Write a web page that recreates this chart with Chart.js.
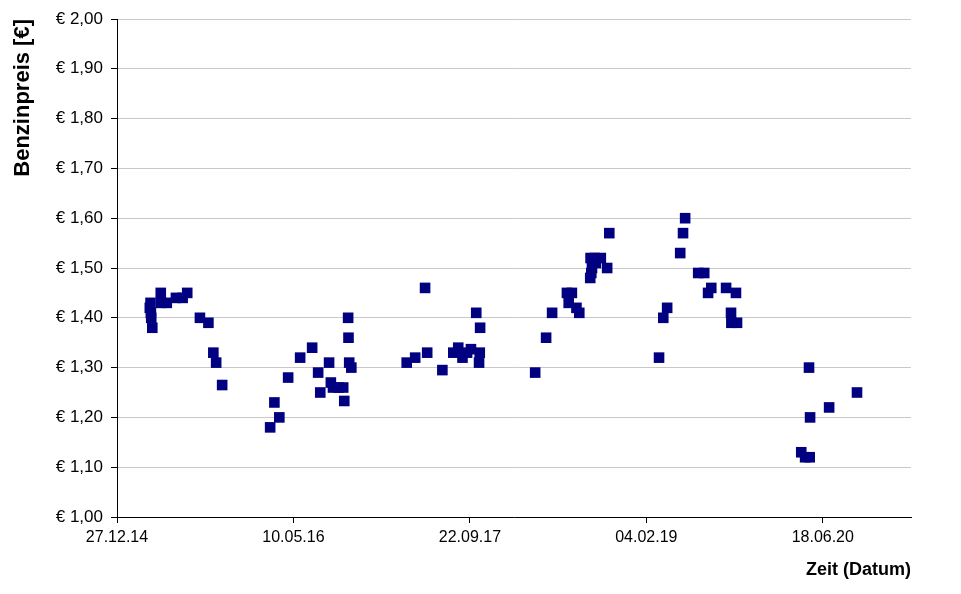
<!DOCTYPE html>
<html>
<head>
<meta charset="utf-8">
<script src="https://cdn.jsdelivr.net/npm/chart.js@4.4.0/dist/chart.umd.min.js"></script>
<style>
html,body{margin:0;padding:0;background:#fff;}
#wrap{width:961px;height:594px;}
</style>
</head>
<body>
<div id="wrap"><canvas id="c" width="961" height="594"></canvas></div>
<script>
// Data (date dd.mm.yy, price in €)
const dates = [
  '30.03.15','01.04.15','02.04.15','03.04.15','06.04.15','30.04.15','01.05.15','17.05.15',
  '12.06.15','01.07.15','14.07.15','19.08.15','12.09.15','26.09.15','04.10.15','21.10.15',
  '05.03.16','17.03.16','31.03.16','25.04.16','29.05.16','02.07.16','19.07.16','25.07.16',
  '19.08.16','24.08.16','30.08.16','15.09.16','28.09.16','01.10.16','12.10.16','13.10.16',
  '15.10.16','21.10.16',
  '27.03.17','20.04.17','18.05.17','24.05.17','06.07.17','06.08.17','20.08.17','01.09.17',
  '14.09.17','25.09.17','10.10.17','18.10.17','20.10.17','21.10.17',
  '26.03.18','26.04.18','13.05.18','24.06.18','08.07.18','29.06.18','21.07.18','29.07.18',
  '29.08.18','01.09.18','03.09.18','30.08.18','14.09.18','11.09.18','28.09.18','16.10.18',
  '22.10.18',
  '12.03.19','24.03.19','04.04.19','11.05.19','19.05.19','25.05.19','01.07.19','18.07.19',
  '29.07.19','07.08.19','18.09.19','02.10.19','03.10.19','16.10.19','19.10.19',
  '18.04.20','29.04.20','12.05.20','10.05.20','13.05.20','06.07.20','23.09.20'
];
const prices = [
  1.42,1.43,1.41,1.40,1.38,1.45,1.43,1.43,
  1.44,1.44,1.45,1.40,1.39,1.33,1.31,1.265,
  1.18,1.23,1.20,1.28,1.32,1.34,1.29,1.25,
  1.31,1.27,1.26,1.26,1.26,1.233,1.40,1.36,
  1.31,1.30,
  1.31,1.32,1.46,1.33,1.295,1.33,1.34,1.32,
  1.33,1.337,1.41,1.31,1.33,1.38,
  1.29,1.36,1.41,1.45,1.45,1.43,1.42,1.41,
  1.48,1.49,1.50,1.52,1.51,1.52,1.52,1.50,
  1.57,
  1.32,1.40,1.42,1.53,1.57,1.60,1.49,1.49,
  1.45,1.46,1.46,1.41,1.39,1.45,1.39,
  1.13,1.12,1.12,1.30,1.20,1.22,1.25
];
const xTickLabels = ['27.12.14','10.05.16','22.09.17','04.02.19','18.06.20'];
const xAxisStart = '27.12.14';
const xAxisEnd = '23.02.21';
const yMin = 1.0, yMax = 2.0, yStep = 0.1;

const BASE = Date.UTC(1899, 11, 30);
function toSerial(s) {
  const [d, m, y] = s.split('.').map(Number);
  return (Date.UTC(2000 + y, m - 1, d) - BASE) / 864e5;
}
function pad(n) { return (n < 10 ? '0' : '') + n; }
function fmtDate(v) {
  const dt = new Date(BASE + Math.round(v) * 864e5);
  return pad(dt.getUTCDate()) + '.' + pad(dt.getUTCMonth() + 1) + '.' + String(dt.getUTCFullYear()).slice(2);
}

const points = dates.map((d, i) => ({ x: toSerial(d), y: prices[i] }));
const FONT = 'Liberation Sans, Arial, sans-serif';

new Chart(document.getElementById('c'), {
  type: 'scatter',
  data: {
    datasets: [{
      data: points,
      pointStyle: 'rect',
      pointRadius: 7.5,
      pointHoverRadius: 7.5,
      backgroundColor: '#000080',
      borderColor: '#000080',
      borderWidth: 0
    }]
  },
  options: {
    responsive: false,
    animation: false,
    events: [],
    layout: { padding: { left: 10, right: 50, top: 19, bottom: 0 } },
    plugins: { legend: { display: false }, tooltip: { enabled: false } },
    scales: {
      x: {
        type: 'linear',
        min: toSerial(xAxisStart),
        max: toSerial(xAxisEnd),
        afterBuildTicks: s => { s.ticks = xTickLabels.map(l => ({ value: toSerial(l) })); },
        afterFit: s => { s.height = 77; },
        ticks: { callback: v => fmtDate(v), font: { family: FONT, size: 16 }, color: '#000', maxRotation: 0, autoSkip: false, padding: 5 },
        grid: { drawOnChartArea: false, drawTicks: true, tickLength: 6, tickColor: '#000' },
        border: { color: '#000', width: 1 },
        title: { display: true, text: 'Zeit (Datum)', align: 'end', color: '#000', font: { family: FONT, size: 18, weight: 'bold' }, padding: { top: 0, bottom: 13 } }
      },
      y: {
        min: yMin, max: yMax,
        afterFit: s => { s.width = 107; },
        ticks: { stepSize: yStep, callback: v => '€ ' + v.toFixed(2).replace('.', ','), font: { family: FONT, size: 17 }, color: '#000', padding: 8 },
        grid: { color: '#c8c8c8', lineWidth: 1, tickLength: 6, tickColor: '#000' },
        border: { color: '#000', width: 1 },
        title: { display: true, text: 'Benzinpreis [€]', align: 'end', color: '#000', font: { family: FONT, size: 22, weight: 'bold' }, padding: 0 }
      }
    }
  }
});
</script>
</body>
</html>
